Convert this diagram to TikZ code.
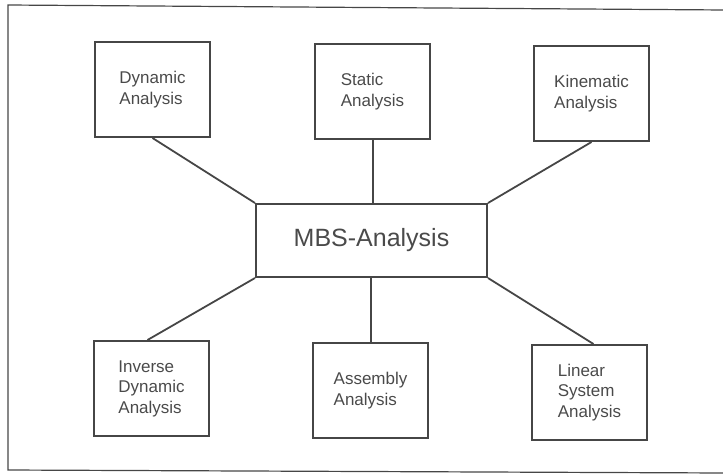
\documentclass[tikz,border=0pt]{standalone}
\usepackage{fontspec}
\setmainfont{Liberation Sans}
\definecolor{linegray}{HTML}{464646}
\definecolor{textgray}{HTML}{4A4A4A}
\begin{document}
\begin{tikzpicture}[x=1pt,y=-1pt,
  box/.style={draw=linegray, line width=2pt, minimum width=115pt, minimum height=95pt,
    align=left, inner sep=0pt, text=textgray, font=\fontsize{17}{20.5}\selectfont},
  hub/.style={draw=linegray, line width=2pt, minimum width=231pt, minimum height=73pt,
    inner sep=0pt, text=textgray, font=\fontsize{25}{28}\selectfont},
  conn/.style={draw=linegray, line width=1.8pt}]
\useasboundingbox (0,0) rectangle (723,475);
\draw[linegray, line width=1.2pt] (726,10) -- (8,5) -- (8,470) -- (726,473);
\node[hub] (mbs) at (371.5,240.5) {MBS-Analysis};
\node[box] (dyn) at (152.5,89.5) {Dynamic\\Analysis};
\node[box] (sta) at (372.5,91.5) {Static\\Analysis};
\node[box] (kin) at (591.5,93.5) {Kinematic\\Analysis};
\node[box] (inv) at (151.5,388.5) {Inverse\\Dynamic\\Analysis};
\node[box] (ass) at (370.5,390.5) {Assembly\\Analysis};
\node[box] (lin) at (589.5,392.5) {Linear\\System\\Analysis};
\draw[conn] (dyn.south) -- (mbs.north west);
\draw[conn] ([xshift=0.5pt]sta.south) -- ([xshift=0.5pt]sta.south |- mbs.north);
\draw[conn] (kin.south) -- (mbs.north east);
\draw[conn] ([xshift=-4pt]inv.north) -- (mbs.south west);
\draw[conn] ([xshift=0.5pt]ass.north) -- ([xshift=0.5pt]ass.north |- mbs.south);
\draw[conn] ([xshift=4pt]lin.north) -- (mbs.south east);
\end{tikzpicture}
\end{document}
